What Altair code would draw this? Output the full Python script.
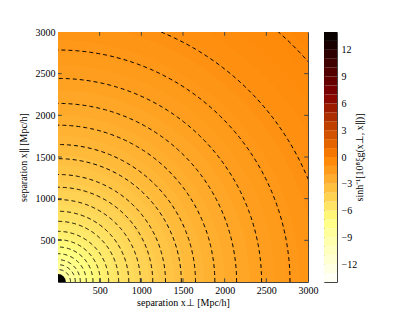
import math
import numpy as np
import pandas as pd
import altair as alt

# ---- data ----
# concentric rings (outer radius in Mpc/h) and the field value inside each ring
ring_radius = [4300, 4100, 3900, 3700, 3500, 3300, 3100, 2900, 2750, 2600, 2450,
               2300, 2150, 2000, 1880, 1760, 1640, 1520, 1400, 1300, 1200, 1100,
               1000, 920, 840, 760, 690, 620, 560, 500, 450, 400, 350, 305, 265,
               230, 195, 165, 135, 110, 95]
ring_value = [-0.40, -0.50, -0.61, -0.72, -0.83, -0.96, -1.14, -1.30, -1.47, -1.66,
              -1.86, -2.07, -2.29, -2.51, -2.71, -2.93, -3.19, -3.48, -3.73, -3.97,
              -4.24, -4.53, -4.79, -5.03, -5.29, -5.55, -5.80, -6.04, -6.29, -6.54,
              -6.78, -7.04, -7.29, -7.54, -7.78, -8.03, -8.26, -8.48, -8.68, -8.85,
              14.0]

# radii of the dashed contour lines
contour_radius = [4000, 3245, 2784, 2443, 2143, 1882, 1650, 1480, 1290, 1137, 989,
                  849, 728, 608, 508, 420, 340, 268, 208, 150]

axis_ticks = [500, 1000, 1500, 2000, 2500, 3000]
cbar_levels = list(range(-14, 15))
cbar_ticks = [-12, -9, -6, -3, 0, 3, 6, 9, 12]

# afmhot_r colormap breakpoints
cmap_domain = [-14, -7, 0, 7, 14]
cmap_range = ["#ffffff", "#ffff80", "#ff8000", "#800000", "#000000"]

W = 250
H = 250
FONT = "Liberation Serif"

cscale = alt.Scale(domain=cmap_domain, range=cmap_range, interpolate="rgb", clamp=True)
xscale = alt.Scale(domain=[0, 3000], nice=False, zero=False)
yscale = alt.Scale(domain=[0, 3000], nice=False, zero=False)

xaxis = alt.Axis(values=axis_ticks, title="separation x⊥ [Mpc/h]", ticks=False,
                 domain=False, grid=False, labelPadding=3, titlePadding=2,
                 labelFlush=False, labelOverlap=False, format="d")
yaxis = alt.Axis(values=axis_ticks, title="separation x∥ [Mpc/h]", ticks=False,
                 domain=False, grid=False, labelPadding=3, titlePadding=7,
                 labelFlush=False, labelOverlap=False, format="d")

ring_df = pd.DataFrame({"r": ring_radius, "v": ring_value})

rings = alt.Chart(ring_df).mark_arc(clip=True, strokeWidth=0).encode(
    x=alt.X(datum=0, type="quantitative", scale=xscale, axis=xaxis),
    y=alt.Y(datum=0, type="quantitative", scale=yscale, axis=yaxis),
    theta=alt.value(0),
    theta2=alt.value(math.pi / 2),
    radius=alt.Radius("r:Q", stack=None,
                      scale=alt.Scale(type="linear", domain=[0, 3000],
                                      range=[0, W], zero=True)),
    color=alt.Color("v:Q", scale=cscale, legend=None),
)

ang = np.linspace(0, np.pi / 2, 181)
rows = []
for r in contour_radius:
    for i, a in enumerate(ang):
        rows.append({"r": r, "i": i, "cx": r * math.cos(a), "cy": r * math.sin(a)})
cont_df = pd.DataFrame(rows)

contours = alt.Chart(cont_df).mark_line(
    clip=True, color="black", strokeWidth=1, strokeDash=[4, 3]
).encode(
    x=alt.X("cx:Q", scale=xscale, axis=xaxis),
    y=alt.Y("cy:Q", scale=yscale, axis=yaxis),
    detail="r:N",
    order="i:Q",
)

tick_df = pd.DataFrame({"t": axis_ticks[:-1]})
tlen = 45
tick_layers = []
for y0, y1 in [(0, tlen), (3000, 3000 - tlen)]:
    tick_layers.append(alt.Chart(tick_df).mark_rule(color="#444", strokeWidth=1).encode(
        x=alt.X("t:Q", scale=xscale, axis=xaxis),
        y=alt.Y(datum=y0, type="quantitative", scale=yscale, axis=yaxis),
        y2=alt.Y2(datum=y1),
    ))
for x0, x1 in [(0, tlen), (3000, 3000 - tlen)]:
    tick_layers.append(alt.Chart(tick_df).mark_rule(color="#444", strokeWidth=1).encode(
        y=alt.Y("t:Q", scale=yscale, axis=yaxis),
        x=alt.X(datum=x0, type="quantitative", scale=xscale, axis=xaxis),
        x2=alt.X2(datum=x1),
    ))

main = alt.layer(rings, contours, *tick_layers).properties(width=W, height=H)

cb_df = pd.DataFrame({"lo": cbar_levels[:-1], "hi": cbar_levels[1:]})
cb_df["mid"] = (cb_df["lo"] + cb_df["hi"]) / 2

cbar = alt.Chart(cb_df).mark_rect().encode(
    y=alt.Y("lo:Q", scale=alt.Scale(domain=[-14, 14], nice=False, zero=False),
            axis=alt.Axis(orient="right", values=cbar_ticks, ticks=False, domain=False,
                          grid=False, labelPadding=4, labelFlush=False, format="d",
                          title="sinh⁻¹[10⁸ξg(x⊥, x∥)]", titleAngle=270,
                          titlePadding=8)),
    y2="hi:Q",
    color=alt.Color("mid:Q", scale=cscale, legend=None),
).properties(width=13, height=H)

chart = alt.hconcat(main, cbar, spacing=16, bounds="flush").properties(
    padding={"left": 9, "top": 18, "right": 5, "bottom": 5},
    background="white",
).configure_view(
    stroke="#444", strokeWidth=1
).configure_axis(
    labelFont=FONT, titleFont=FONT, labelFontSize=10, titleFontSize=10,
    labelColor="black", titleColor="black", titleFontWeight="normal"
)

chart.save("out.html", embed_options={"renderer": "svg", "actions": False})
